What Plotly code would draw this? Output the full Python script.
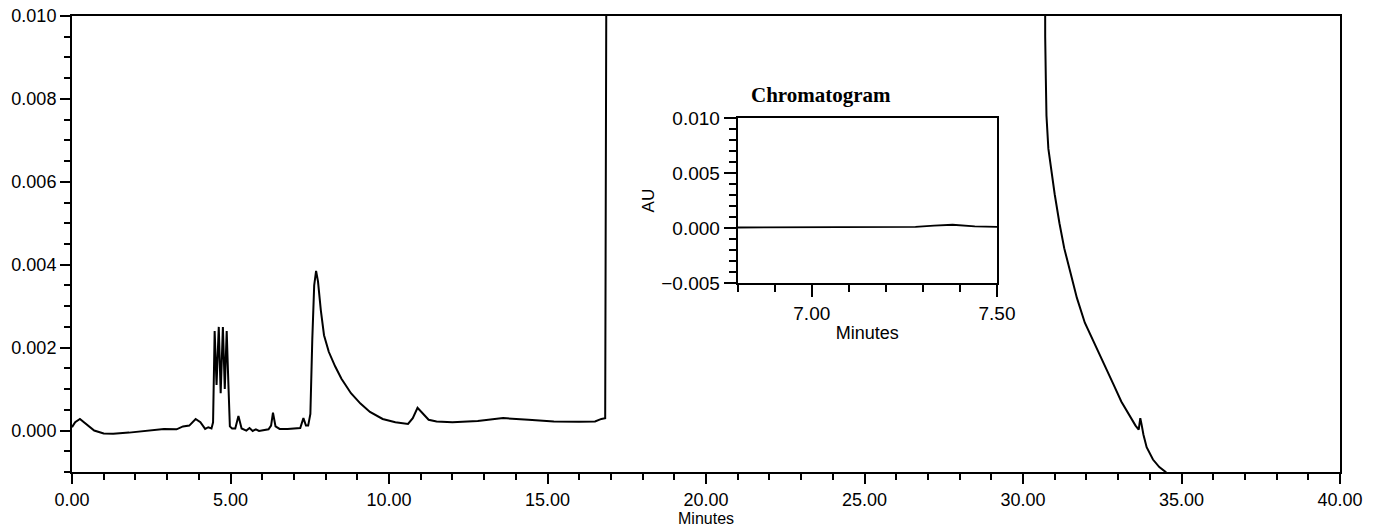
import plotly.graph_objects as go

# Main chromatogram (minutes, AU)
time_min = [0.0, 0.1, 0.25, 0.45, 0.7, 1.0, 1.3, 1.8, 2.4, 2.9, 3.3, 3.5, 3.7, 3.9, 4.05,
            4.2, 4.3, 4.4, 4.45, 4.5, 4.56, 4.63, 4.69, 4.76, 4.82, 4.88, 4.93, 4.98,
            5.05, 5.15, 5.25, 5.35, 5.5, 5.6, 5.7, 5.8, 5.9, 6.05, 6.2, 6.28, 6.34, 6.42,
            6.55, 6.8, 7.0, 7.2, 7.3, 7.38, 7.45, 7.52, 7.58, 7.64, 7.7, 7.76, 7.85, 7.95,
            8.1, 8.3, 8.5, 8.8, 9.1, 9.4, 9.8, 10.2, 10.6, 10.75, 10.9, 11.05, 11.25, 11.5,
            12.0, 12.8, 13.6, 14.4, 15.2, 16.0, 16.5, 16.7, 16.82, 16.86, 16.9,
            30.65, 30.68, 30.70, 30.72, 30.74, 30.8, 30.9, 31.0, 31.15, 31.3, 31.5, 31.7,
            31.95, 32.2, 32.4, 32.65, 32.85, 33.1, 33.37, 33.55, 33.65,
            33.7, 33.74, 33.8, 33.9, 34.1, 34.3, 34.5, 34.7]
absorbance = [0.00008, 0.0002, 0.00028, 0.00015, 0.0, -0.00007, -0.00008, -0.00005, -0.00001,
              0.00004, 0.00003, 0.0001, 0.00012, 0.00028, 0.0002, 0.00004, 0.00008, 0.00005,
              0.0002, 0.0024, 0.0011, 0.0025, 0.0009, 0.0025, 0.001, 0.0024, 0.0012, 0.0001,
              0.00005, 0.00005, 0.00035, 0.00005, 0.0, 0.00006, -0.00001, 0.00003, -0.00001,
              0.00001, 0.00003, 0.00012, 0.00043, 0.0001, 0.00004, 0.00004, 0.00005, 0.00006,
              0.0003, 0.00012, 0.00012, 0.0004, 0.0022, 0.0035, 0.00385, 0.0036, 0.0029, 0.0023,
              0.0019, 0.00155, 0.00125, 0.0009, 0.00065, 0.00045, 0.00028, 0.0002, 0.00016,
              0.0003, 0.00055, 0.00042, 0.00026, 0.00022, 0.0002, 0.00023, 0.0003, 0.00026,
              0.00022, 0.00021, 0.00022, 0.00028, 0.0003, 0.012, 0.05,
              0.05, 0.0102, 0.0095, 0.0085, 0.0076, 0.0068, 0.0062, 0.0057, 0.0050, 0.0044,
              0.0038, 0.0032, 0.0026, 0.0022, 0.00185, 0.00145, 0.00112, 0.0007, 0.00034,
              0.00012, 0.00002,
              0.0003, 0.00015, -0.0001, -0.0004, -0.0007, -0.00088, -0.001, -0.0012]

# Inset chromatogram
inset_time = [6.8, 6.9, 7.0, 7.1, 7.2, 7.28, 7.33, 7.38, 7.44, 7.5]
inset_abs = [0.00005, 0.00005, 0.00005, 0.00006, 0.00008, 0.0001, 0.00022, 0.0003, 0.00015, 0.0001]

SANS = "Liberation Sans, Arial"
main_tick_font = dict(family=SANS, size=18, color="black")
inset_tick_font = dict(family=SANS, size=19, color="black")

fig = go.Figure()
fig.add_trace(go.Scatter(x=time_min, y=absorbance, mode="lines",
                         line=dict(color="black", width=2), showlegend=False))
fig.add_trace(go.Scatter(x=inset_time, y=inset_abs, mode="lines", xaxis="x2", yaxis="y2",
                         line=dict(color="black", width=1.8), showlegend=False))

common = dict(showline=True, linecolor="black", linewidth=2, mirror=True, showgrid=False,
              zeroline=False, ticks="outside", tickcolor="black", tickwidth=1.5,
              automargin=False)

fig.update_layout(
    width=1380, height=529, autosize=False,
    margin=dict(l=72, r=40, t=16, b=57),
    paper_bgcolor="white", plot_bgcolor="white",
    xaxis=dict(range=[0, 40], dtick=5, tick0=0, tickformat=".2f", ticklen=10,
               tickfont=main_tick_font,
               minor=dict(dtick=1, ticklen=6, ticks="outside", tickcolor="black", tickwidth=1.5),
               **common),
    yaxis=dict(range=[-0.001, 0.010], dtick=0.002, tick0=0, tickformat=".3f", ticklen=10,
               tickfont=main_tick_font,
               minor=dict(dtick=0.0005, ticklen=6, ticks="outside", tickcolor="black", tickwidth=1.5),
               **common),
    xaxis2=dict(domain=[0.525, 0.7295], anchor="y2", range=[6.8, 7.5], dtick=0.5, tick0=7.0,
                tickformat=".2f", ticklen=12, tickfont=inset_tick_font,
                minor=dict(dtick=0.1, ticklen=7, ticks="outside", tickcolor="black", tickwidth=1.5),
                title=dict(text="Minutes", font=dict(family=SANS, size=18, color="black"),
                           standoff=4),
                **common),
    yaxis2=dict(domain=[0.4145, 0.776], anchor="x2", range=[-0.005, 0.010], dtick=0.005, tick0=0,
                tickformat=".3f", ticklen=12, tickfont=inset_tick_font,
                minor=dict(dtick=0.001, ticklen=7, ticks="outside", tickcolor="black", tickwidth=1.5),
                title=dict(text="AU", font=dict(family=SANS, size=17, color="black"),
                           standoff=2),
                **common),
    annotations=[
        dict(text="<b>Chromatogram</b>", x=0.5907, y=0.827, xref="paper", yref="paper",
             showarrow=False, xanchor="center", yanchor="middle",
             font=dict(family="Liberation Serif, Times New Roman", size=21, color="black")),
        dict(text="Minutes", x=0.5, y=-0.103, xref="paper", yref="paper",
             showarrow=False, xanchor="center", yanchor="middle",
             font=dict(family=SANS, size=16, color="black")),
    ],
)

fig.write_html("out.html")
